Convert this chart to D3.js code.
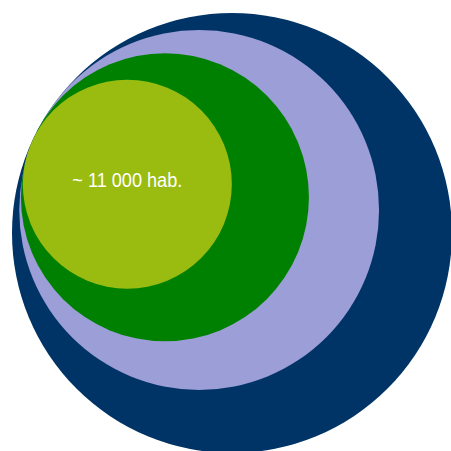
<!DOCTYPE html>
<html>
<head>
<meta charset="utf-8">
<script src="https://cdn.jsdelivr.net/npm/d3@7"></script>
<style>
  body { margin: 0; background: #fff; }
  svg { display: block; }
</style>
</head>
<body>
<script>

// populations, biggest circle first (only the smallest one is labelled)
var levels = ['total', 'ring3', 'ring2', 'core'];
var population = [48750, 32600, 20890, 11000];
var labels = ['', '', '', '~ 11 000 hab.'];
var colors = ['#003466', '#9c9ed7', '#008000', '#9abc10'];

var w = 451,
    h = 451;

var cx0 = 232, cy0 = 233; // center of the big circle
// direction (deg) where each inner circle touches the big one
var touchAngle = [0, 215, 208, 205];

var r = d3.scaleSqrt()
    .domain([0, d3.max(population)])
    .range([0, 220]);

var data = population.map(function(p, i){
    var rad = r(p),
        d = r(population[0]) - rad,
        a = touchAngle[i] * Math.PI / 180;
    return {
        level: levels[i],
        pop: p,
        label: labels[i],
        color: colors[i],
        r: rad,
        cx: cx0 + d * Math.cos(a),
        cy: cy0 + d * Math.sin(a)
    };
});

var svg = d3.select('body')
    .append('svg')
    .attr('width', w)
    .attr('height', h);

svg.selectAll('circle')
    .data(data)
    .enter()
    .append('circle')
    .attr('cx', function(d){ return d.cx; })
    .attr('cy', function(d){ return d.cy; })
    .attr('r', function(d){ return d.r; })
    .attr('fill', function(d){ return d.color; });

svg.selectAll('text')
    .data(data.filter(function(d){ return d.label; }))
    .enter()
    .append('text')
    .attr('x', function(d){ return d.cx; })
    .attr('y', function(d){ return d.cy + 3; })
    .attr('text-anchor', 'middle')
    .attr('fill', '#fff')
    .style('font-family', '"Liberation Sans", Arial, sans-serif')
    .style('font-size', '20px')
    .attr('textLength', 110)
    .attr('lengthAdjust', 'spacingAndGlyphs')
    .text(function(d){ return d.label; });

</script>
</body>
</html>
